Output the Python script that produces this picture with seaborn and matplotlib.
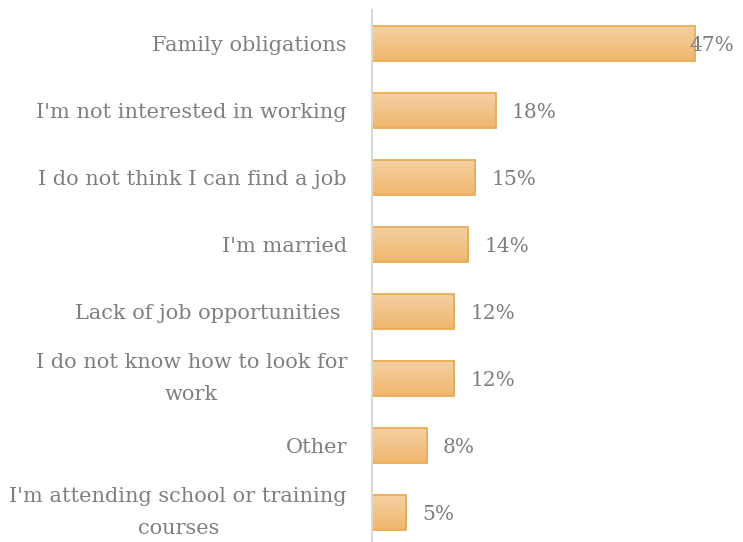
import numpy as np
import pandas as pd
import matplotlib.pyplot as plt
import seaborn as sns

reasons = [
    "Family obligations",
    "I'm not interested in working",
    "I do not think I can find a job",
    "I'm married",
    "Lack of job opportunities ",
    "I do not know how to look for\nwork",
    "Other",
    "I'm attending school or training\ncourses",
]
shares = [47, 18, 15, 14, 12, 12, 8, 5]

df = pd.DataFrame({"reason": reasons, "share": shares})

sns.set_style("white")
plt.rcParams["font.family"] = ["DejaVu Serif", "Liberation Serif"]

fig = plt.figure(figsize=(7.43, 5.42), dpi=100)
ax = fig.add_axes([372 / 743, 0, 371 / 743, 532 / 542])

sns.barplot(data=df, x="share", y="reason", orient="h", ax=ax,
            color="#f2c48a", edgecolor="#ebab52", linewidth=1.3, width=0.51)

# vertical gradient on each bar, light at top, deeper at bottom
grad = np.linspace(0, 1, 64).reshape(-1, 1)
cmap = sns.blend_palette(["#f5d0a3", "#efb76c"], as_cmap=True)
for p in ax.patches:
    x0, y0 = p.get_x(), p.get_y()
    w, h = p.get_width(), p.get_height()
    im = ax.imshow(grad, cmap=cmap, aspect="auto", extent=(x0, x0 + w, y0 + h, y0),
                   zorder=p.get_zorder() - 0.1, interpolation="bicubic")
    im.set_clip_path(p)
    p.set_facecolor("none")

ax.set_xlim(0, 54)
ax.set_ylim(7.44, -0.5)

for i, v in enumerate(shares):
    off = -6 if v == max(shares) else 16
    ax.annotate(f"{v}%", (v, i), xytext=(off, -2), textcoords="offset pixels",
                va="center", ha="left", fontsize=14.5, color="#7f7f7f")

ax.set_xlabel("")
ax.set_ylabel("")
ax.set_xticks([])
ax.tick_params(axis="y", length=0, pad=18, labelsize=15, labelcolor="#7f7f7f")
for lab in ax.get_yticklabels():
    lab.set_multialignment("center")
    lab.set_linespacing(1.85)
    if "\n" in lab.get_text():
        lab.set_va("center")

for s in ["top", "right", "bottom"]:
    ax.spines[s].set_visible(False)
ax.spines["left"].set_color("#d9d9d9")
ax.spines["left"].set_linewidth(1.5)

fig.savefig("out.png", dpi=100)
